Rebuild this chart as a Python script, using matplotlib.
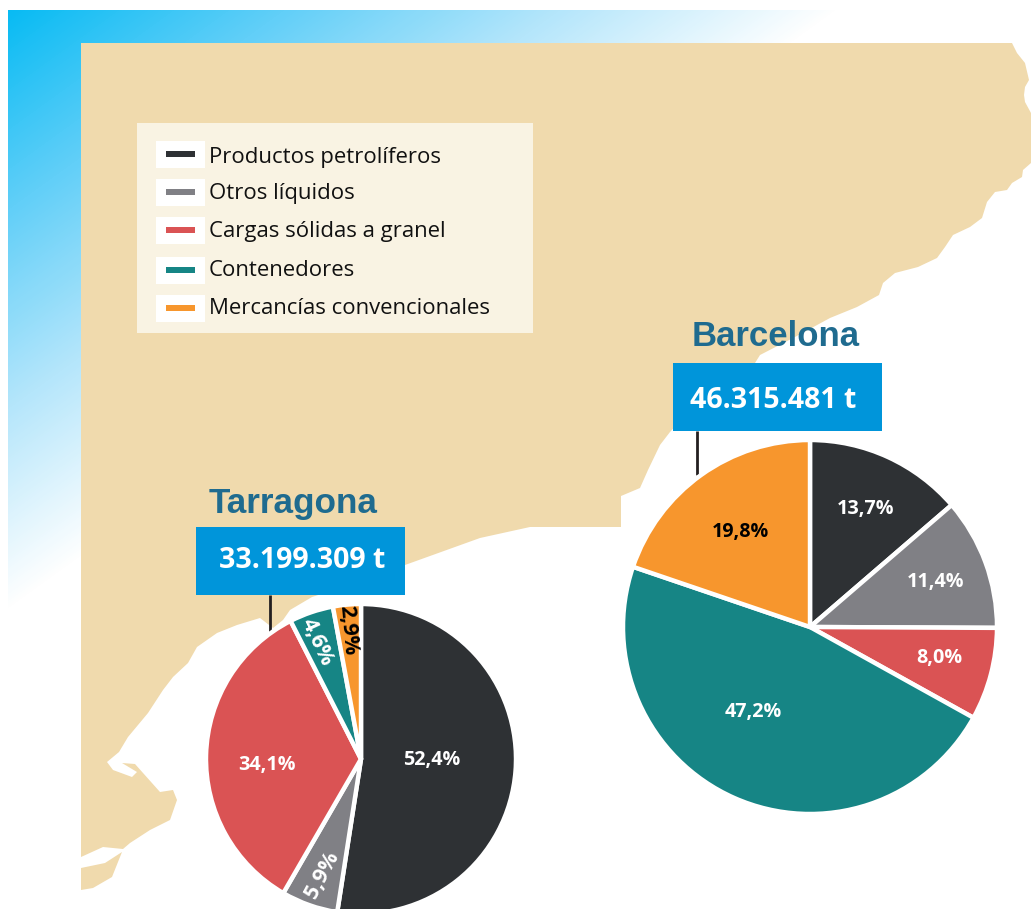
import matplotlib
matplotlib.use("Agg")
import matplotlib.pyplot as plt
from matplotlib.patches import Polygon, Rectangle
from matplotlib.colors import LinearSegmentedColormap
import numpy as np

# Data
categories = ["Productos petrolíferos", "Otros líquidos", "Cargas sólidas a granel",
              "Contenedores", "Mercancías convencionales"]
colors = ["#2E3134", "#808085", "#DA5354", "#168585", "#F7962D"]
barcelona_share = [13.7, 11.4, 8.0, 47.2, 19.8]
tarragona_share = [52.4, 5.9, 34.1, 4.6, 2.9]
barcelona_total = "46.315.481 t"
tarragona_total = "33.199.309 t"

W, H = 1031, 909
LAND = "#F0DAAD"
TITLE = "#1F6B8F"
BOX = "#0095DA"
BODY_FONT = "Open Sans"


def Y(y):
    # picture coordinates run downwards, the axes upwards
    return H - y


fig = plt.figure(figsize=(W / 100, H / 100), dpi=100)
ax = fig.add_axes([0, 0, 1, 1])

# Blue corner gradient behind the map
xs, ys = np.meshgrid(np.arange(8, W), np.arange(10, H))
t = np.clip((xs - 8) / 830 + (ys - 10) / 600, 0, 1)
fade = LinearSegmentedColormap.from_list("fade", ["#08BBF3", "#62CFF8", "#B5E6FB", "#FFFFFF"])
ax.imshow(t, cmap=fade, vmin=0, vmax=1, extent=(8, W, Y(H), Y(10)), origin="upper",
          aspect="auto", zorder=0)

# Coastline
coast = [(81, 43), (1012, 43), (1017, 53), (1025, 63), (1029, 80), (1025, 87), (1024, 95), (1025, 102),
         (1031, 113), (1031, 163), (1023, 170), (1022, 177), (1012, 183), (1007, 190),
         (995, 192), (987, 202), (982, 218), (970, 227), (953, 235), (945, 247), (937, 258),
         (918, 267), (895, 273), (883, 283), (879, 295), (857, 307), (830, 318), (795, 337), (760, 355),
         (755, 363), (700, 400), (670, 432), (660, 445), (648, 470), (640, 488), (621, 496),
         (621, 527), (530, 527), (480, 538), (405, 565), (340, 588), (312, 597), (290, 610),
         (283, 620), (273, 628), (260, 618), (237, 625), (217, 633), (197, 647), (188, 663),
         (173, 677), (163, 690), (148, 713), (128, 737), (119, 752), (107, 762), (113, 770),
         (132, 777), (137, 772), (122, 763), (135, 764), (160, 792), (173, 790), (177, 800),
         (170, 820), (150, 830), (130, 843), (123, 849), (103, 847), (81, 857), (81, 868),
         (105, 863), (122, 852), (112, 877), (93, 888), (81, 890)]
ax.add_patch(Polygon([(x, Y(y)) for x, y in coast], closed=True, facecolor=LAND,
                     edgecolor="none", zorder=1))

# Legend panel
ax.add_patch(Rectangle((137, Y(333)), 396, 210, facecolor="#F9F3E3", edgecolor="none", zorder=2))
legend_rows = [154, 192, 230, 270, 308]
legend_text = [158, 193, 231, 271, 309]
for name, color, row, ty in zip(categories, colors, legend_rows, legend_text):
    ax.add_patch(Rectangle((156, Y(row + 14)), 49, 27, facecolor="white", edgecolor="none", zorder=3))
    ax.add_patch(Rectangle((166, Y(row + 3)), 29, 6, facecolor=color, edgecolor="none", zorder=4))
    ax.text(209, Y(ty), name, fontsize=15.9, family=BODY_FONT, color="#111111",
            ha="left", va="center", zorder=4)

# Leader lines
ax.plot([697, 697], [Y(431), Y(475)], color="#231F20", lw=2, zorder=2, solid_capstyle="butt")
ax.plot([270, 270], [Y(595), Y(632)], color="#231F20", lw=2, zorder=2, solid_capstyle="butt")

# Pies
wedge_style = {"edgecolor": "white", "linewidth": 3.2, "zorder": 5}
ax.pie(barcelona_share, colors=colors, center=(810, Y(627)), radius=187, startangle=90,
       counterclock=False, wedgeprops=wedge_style, normalize=True, frame=True)
ax.pie(tarragona_share, colors=colors, center=(361, Y(759)), radius=155, startangle=90,
       counterclock=False, wedgeprops=wedge_style, normalize=True, frame=True)

# Percentage labels sit where the original author placed them
barcelona_pos = [(866, 509, 0), (936, 582, 0), (939, 658, 0), (753, 712, 0), (740, 532, 0)]
tarragona_pos = [(432, 760, 0), (322, 875, 62), (267, 765, 0), (317, 642, -65), (348, 630, -85)]
barcelona_ink = ["white", "white", "white", "white", "black"]
tarragona_ink = ["white", "white", "white", "white", "black"]
for share, pos, ink in [(barcelona_share, barcelona_pos, barcelona_ink),
                        (tarragona_share, tarragona_pos, tarragona_ink)]:
    for v, (x, y, rot), c in zip(share, pos, ink):
        size = 14.2 if rot == 0 else 15.5
        ax.text(x, Y(y), f"{v:.1f}%".replace(".", ","), color=c, fontsize=size, fontweight="bold",
                family=BODY_FONT, ha="center", va="center", rotation=rot,
                rotation_mode="anchor", zorder=6)

# Port names and totals
ax.text(776, Y(336), "Barcelona", color=TITLE, fontsize=25, fontweight="bold",
        family="Liberation Sans", ha="center", va="center", zorder=6)
ax.text(293, Y(503), "Tarragona", color=TITLE, fontsize=25.3, fontweight="bold",
        family="Liberation Sans", ha="center", va="center", zorder=6)
ax.add_patch(Rectangle((673, Y(431)), 209, 68, facecolor=BOX, edgecolor="none", zorder=6))
ax.add_patch(Rectangle((196, Y(595)), 209, 68, facecolor=BOX, edgecolor="none", zorder=6))
ax.text(773, Y(400), barcelona_total, color="white", fontsize=20.5, fontweight="bold",
        family=BODY_FONT, ha="center", va="center", zorder=7)
ax.text(302, Y(561), tarragona_total, color="white", fontsize=20.5, fontweight="bold",
        family=BODY_FONT, ha="center", va="center", zorder=7)

ax.set_xlim(0, W)
ax.set_ylim(0, H)
ax.axis("off")

plt.savefig("out.png", dpi=100, facecolor="white")
